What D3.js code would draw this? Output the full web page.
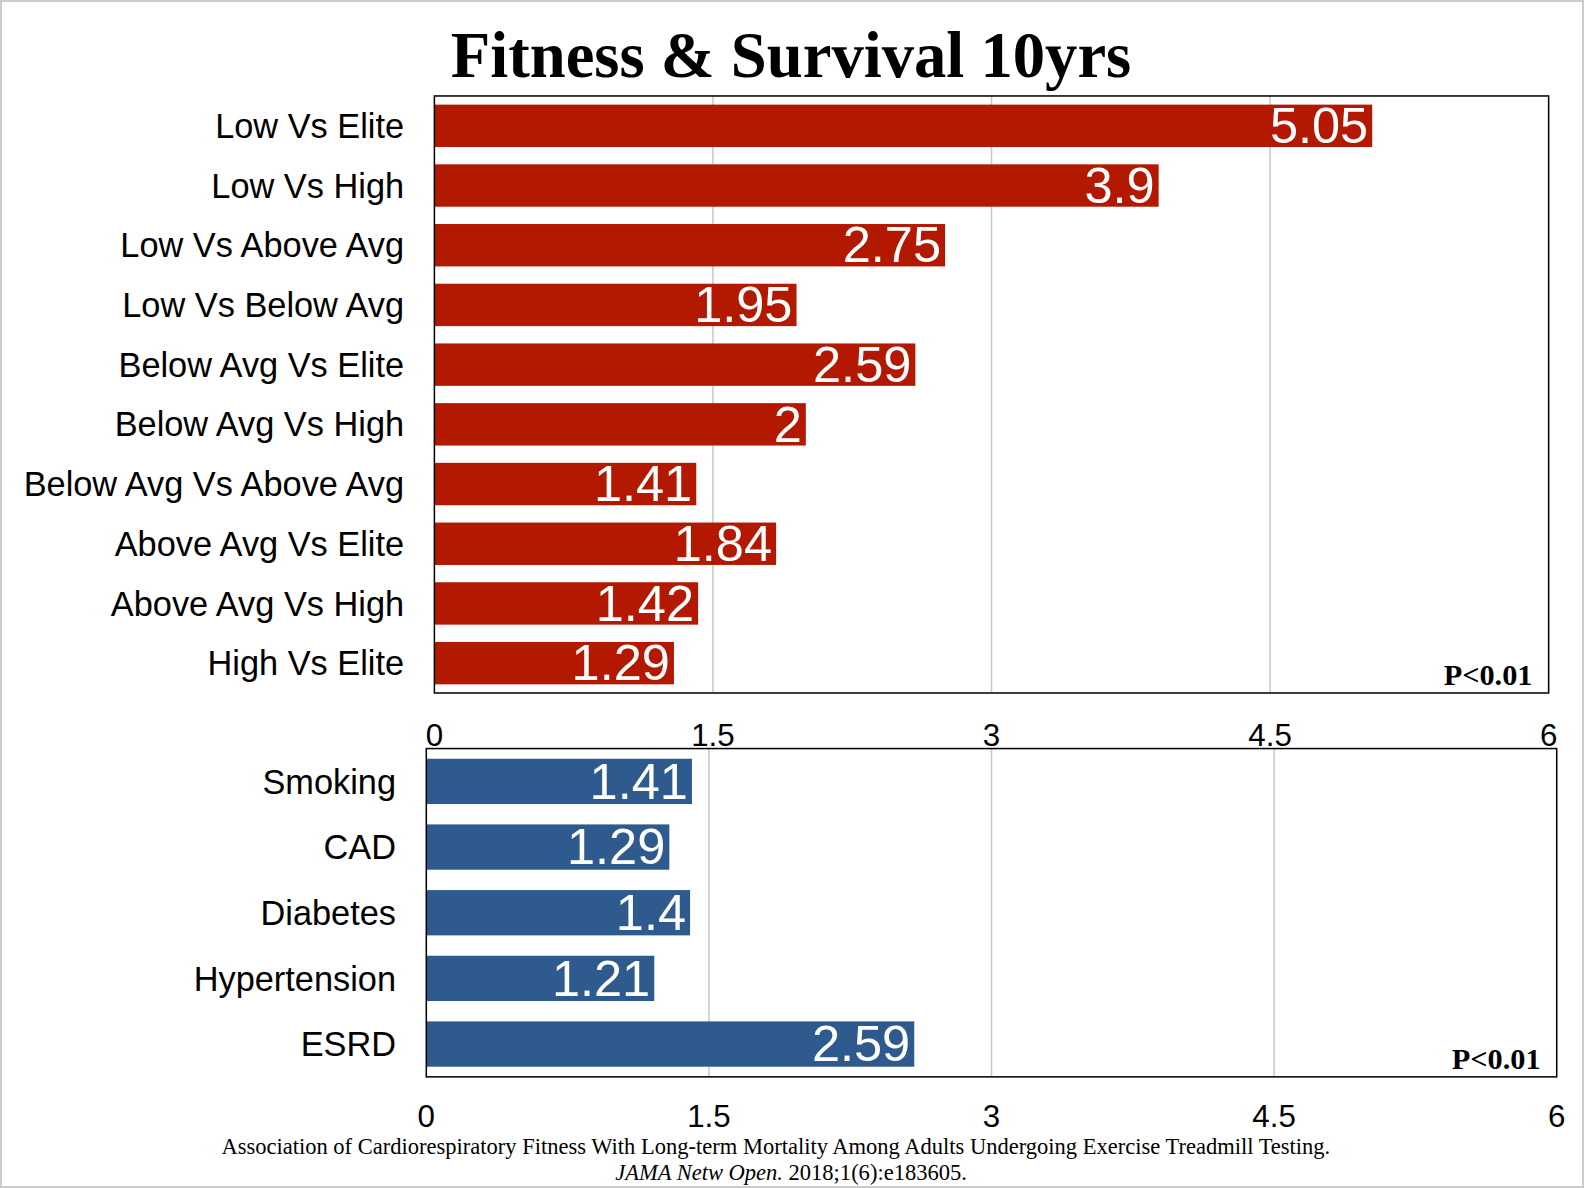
<!DOCTYPE html>
<html><head><meta charset="utf-8">
<script src="https://cdn.jsdelivr.net/npm/d3@7"></script>
<style>body{margin:0;background:#fff;overflow:hidden}</style>
</head><body>
<svg id="chart" width="1584" height="1188"></svg>
<script>
// data
const fitnessLabels = ["Low Vs Elite","Low Vs High","Low Vs Above Avg","Low Vs Below Avg","Below Avg Vs Elite","Below Avg Vs High","Below Avg Vs Above Avg","Above Avg Vs Elite","Above Avg Vs High","High Vs Elite"];
const fitnessValues = [5.05, 3.9, 2.75, 1.95, 2.59, 2, 1.41, 1.84, 1.42, 1.29];
const riskLabels = ["Smoking","CAD","Diabetes","Hypertension","ESRD"];
const riskValues = [1.41, 1.29, 1.4, 1.21, 2.59];
const ticks = [0, 1.5, 3, 4.5, 6];

const root = d3.select("#chart");
root.append("rect").attr("x",1).attr("y",1).attr("width",1582).attr("height",1186)
  .attr("fill","none").attr("stroke","#ccc").attr("stroke-width",2);
// layout was measured on a 1568-wide view, scale up to the page
const svg = root.append("g").attr("transform", `scale(${1584/1568})`);

svg.append("text").attr("x",783).attr("y",76).attr("text-anchor","middle")
  .attr("font-family","Liberation Serif").attr("font-weight","bold").attr("font-size",64)
  .text("Fitness & Survival 10yrs");

function panel(labels, values, box, color, labelX, tickY, barFrac) {
  let x = d3.scaleLinear().domain([0,6]).range([box.x0, box.x1]);
  let y = d3.scaleBand().domain(labels).range([box.y0, box.y1]).paddingInner(1-barFrac).paddingOuter((1-barFrac)/2);
  let g = svg.append("g");
  g.selectAll(".grid").data(ticks.slice(1,-1)).join("line")
    .attr("x1", d => x(d)).attr("x2", d => x(d)).attr("y1", box.y0).attr("y2", box.y1)
    .attr("stroke","#c8c8c8").attr("stroke-width",1.5);
  g.selectAll(".bar").data(values).join("rect")
    .attr("x", x(0)).attr("y", (d,i) => y(labels[i]))
    .attr("width", d => x(d) - x(0)).attr("height", y.bandwidth()).attr("fill", color);
  g.selectAll(".val").data(values).join("text")
    .attr("x", d => x(d) - 4).attr("y", (d,i) => y(labels[i]) + y.bandwidth()/2 + 17)
    .attr("text-anchor","end").attr("fill","#fff").attr("font-family","Liberation Sans").attr("font-size",50)
    .text(d => d);
  g.selectAll(".lab").data(labels).join("text")
    .attr("x", labelX).attr("y", d => y(d) + y.bandwidth()/2 + 12)
    .attr("text-anchor","end").attr("font-family","Liberation Sans").attr("font-size",34)
    .text(d => d);
  g.append("rect").attr("x",box.x0).attr("y",box.y0).attr("width",box.x1-box.x0).attr("height",box.y1-box.y0)
    .attr("fill","none").attr("stroke","#000").attr("stroke-width",1.5);
  g.selectAll(".tick").data(ticks).join("text")
    .attr("x", d => x(d)).attr("y", tickY).attr("text-anchor","middle")
    .attr("font-family","Liberation Sans").attr("font-size",31).text(d => d);
  g.append("text").attr("x", box.x1 - 16).attr("y", box.y1 - 8).attr("text-anchor","end")
    .attr("font-family","Liberation Serif").attr("font-weight","bold").attr("font-size",30).text("P<0.01");
}

panel(fitnessLabels, fitnessValues, {x0:430,x1:1533,y0:95,y1:686}, "#b31800", 400, 738, 0.71);
panel(riskLabels, riskValues, {x0:422,x1:1541,y0:741,y1:1066}, "#2e5a8e", 392, 1116, 0.69);

const foot = svg.append("g").attr("font-family","Liberation Serif").attr("font-size",22.3).attr("text-anchor","middle");
foot.append("text").attr("x",768).attr("y",1142).text("Association of Cardiorespiratory Fitness With Long-term Mortality Among Adults Undergoing Exercise Treadmill Testing.");
let t2 = foot.append("text").attr("x",783).attr("y",1168);
t2.append("tspan").attr("font-style","italic").text("JAMA Netw Open.");
t2.append("tspan").text(" 2018;1(6):e183605.");
</script>
</body></html>
